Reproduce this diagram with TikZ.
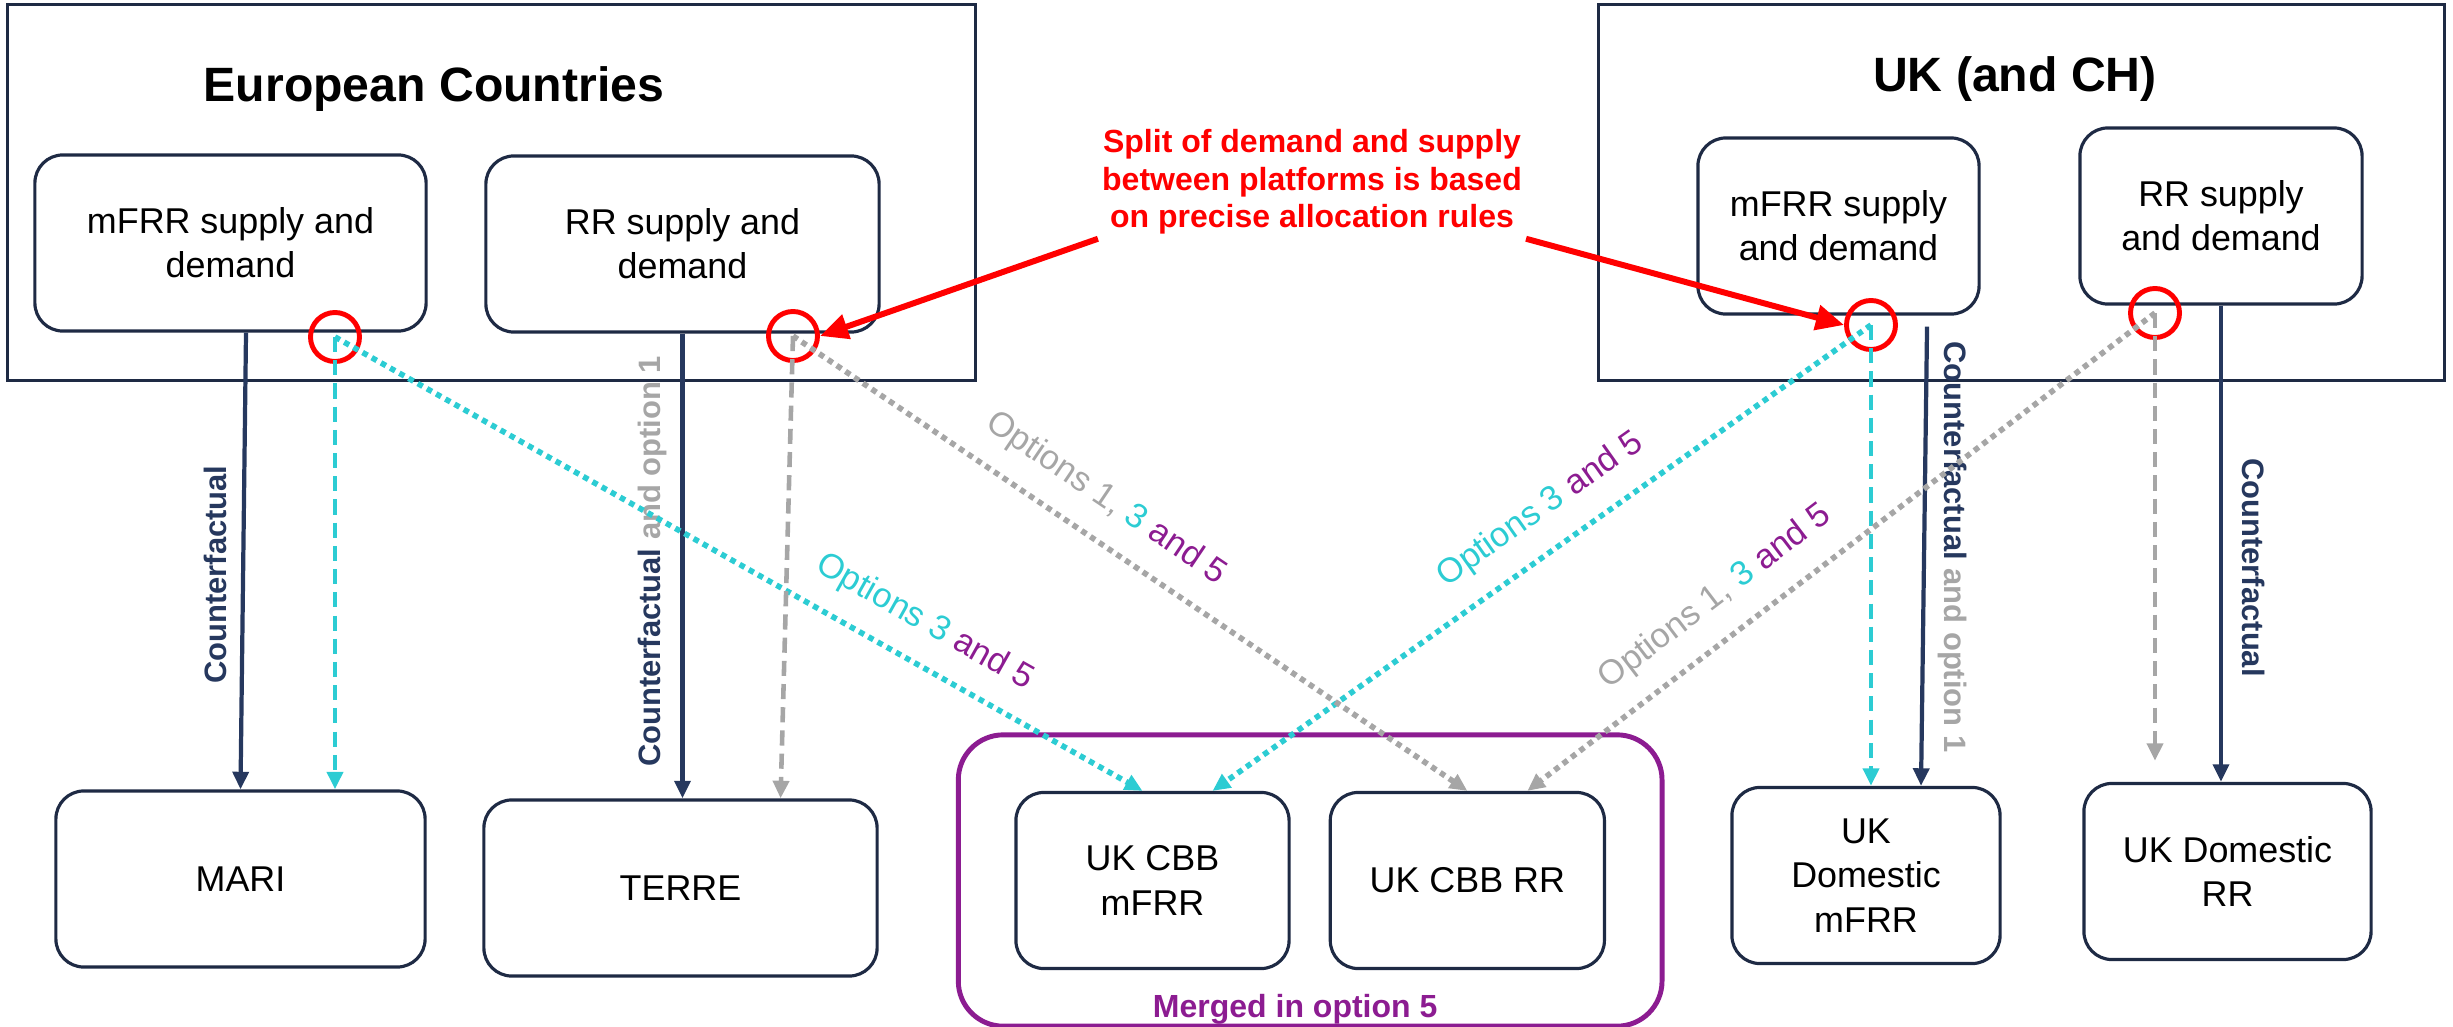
\documentclass[tikz,border=0pt]{standalone}
\usepackage{fontspec}
\setmainfont{Liberation Sans}
\usetikzlibrary{arrows.meta, positioning, fit, calc, backgrounds}

\definecolor{navy}{RGB}{38,56,94}
\definecolor{boxline}{RGB}{30,42,68}
\definecolor{optcyan}{RGB}{44,204,211}
\definecolor{optgrey}{RGB}{166,166,166}
\definecolor{optpurple}{RGB}{140,28,145}

\begin{document}
\begin{tikzpicture}[
    x=0.01cm, y=-0.01cm,
    >={Triangle[length=5pt, width=4.5pt]},
    font=\fontsize{10.2}{12.6}\selectfont,
    regionbox/.style={rectangle, draw=boxline, line width=0.9pt, minimum height=3.75cm},
    regiontitle/.style={font=\fontsize{13.7}{16}\selectfont\bfseries},
    market/.style={rectangle, draw=boxline, line width=0.9pt, rounded corners=0.28cm, minimum height=1.76cm, align=center, inner sep=2pt},
    splitring/.style={circle, draw=red, line width=1.4pt, minimum size=0.49cm, inner sep=0pt},
    cf/.style={->, draw=navy, line width=1.2pt},
    cfdash/.style={->, dash pattern=on 4.3pt off 2.3pt, line width=1.3pt},
    optdot/.style={->, dash pattern=on 1.6pt off 1.4pt, line width=1.6pt},
    cflabel/.style={font=\fontsize{8.8}{10}\selectfont\bfseries, text=navy, inner sep=4pt},
    optlabel/.style={font=\fontsize{9.8}{11}\selectfont, sloped, inner sep=0pt, above=6pt},
    splitnote/.style={font=\fontsize{9.1}{10.7}\selectfont\bfseries, text=red, align=center, inner sep=1pt},
    pointer/.style={-{Triangle[length=8pt, width=7pt]}, draw=red, line width=1.7pt},
    mergebox/.style={rectangle, draw=optpurple, line width=1.4pt, rounded corners=0.45cm, inner sep=0.56cm}
]
\useasboundingbox (0,0) rectangle (2453,1027);

% Regions
\node[regionbox, minimum width=9.67cm] (europe) at (491.5,192.5) {};
\node[regionbox, minimum width=8.45cm] (uk) at (2021.5,192.5) {};
\node[regiontitle] (eutitle) at (434,89) {European Countries};
\node[regiontitle] (uktitle) at (2015,79) {UK (and CH)};

% Supply and demand
\node[market, minimum width=3.91cm] (eumfrr) at (230.5,243) {mFRR supply and\\demand};
\node[market, minimum width=3.93cm] (eurr) at (682.5,244) {RR supply and\\demand};
\node[market, minimum width=2.81cm] (ukmfrr) at (1838.5,226) {mFRR supply\\and demand};
\node[market, minimum width=2.82cm] (ukrr) at (2221,216) {RR supply\\and demand};

% Platforms
\node[market, minimum width=3.69cm] (mari) at (240.5,879) {MARI};
\node[market, minimum width=3.93cm] (terre) at (680.5,888) {TERRE};
\node[market, minimum width=2.73cm] (cbbmfrr) at (1152.5,880.5) {UK CBB\\mFRR};
\node[market, minimum width=2.74cm] (cbbrr) [right=0.38cm of cbbmfrr] {UK CBB RR};
\node[market, minimum width=2.68cm] (dommfrr) at (1866,875.5) {UK\\Domestic\\mFRR};
\node[market, minimum width=2.87cm] (domrr) at (2227.5,871.5) {UK Domestic\\RR};

% Merged box
\begin{scope}[on background layer]
    \node[mergebox, fit=(cbbmfrr) (cbbrr)] (merged) {};
\end{scope}
\node[font=\fontsize{9.1}{11}\selectfont\bfseries, text=optpurple] (mergednote) at ($(merged.south)+(-15,-19)$) {Merged in option 5};

% Split points
\node[splitring] (eumfrrsplit) at (335,337) {};
\node[splitring] (eurrsplit) at (793,336) {};
\node[splitring] (ukmfrrsplit) at (1871,325) {};
\node[splitring] (ukrrsplit) at (2155,313) {};

% Note
\node[splitnote] (rulesnote) at (1312,182) {Split of demand and supply\\between platforms is based\\on precise allocation rules};
\draw[pointer] (rulesnote.south west) -- (eurrsplit.east);
\draw[pointer] (rulesnote.south east) -- (ukmfrrsplit.west);

% Counterfactual
\draw[cf] ([xshift=0.155cm]eumfrr.south) -- node[cflabel, pos=0.53, above, rotate=90] (cfmari) {Counterfactual} (mari.north);
\draw[cf] (eurr.south) -- node[cflabel, pos=0.49, above, rotate=90, inner sep=3.8pt] (cfterre) {Counterfactual \textcolor{optgrey}{and option 1}} (eurr.south |- terre.north);
\draw[cf] ([xshift=0.885cm, yshift=-0.11cm]ukmfrr.south) -- node[cflabel, pos=0.48, above, rotate=-90, inner sep=3.3pt] (cfdommfrr) {Counterfactual \textcolor{optgrey}{and option 1}} ([xshift=0.55cm]dommfrr.north);
\draw[cf] (ukrr.south) -- node[cflabel, pos=0.55, above, rotate=-90, inner sep=5.4pt] (cfdomrr) {Counterfactual} (ukrr.south |- domrr.north);

% mFRR options
\draw[cfdash, optcyan] (eumfrrsplit.center) -- (eumfrrsplit.center |- mari.north);
\draw[optdot, optcyan] (eumfrrsplit.center) -- node[optlabel, pos=0.706] (opteumfrr) {\textcolor{optcyan}{Options 3} \textcolor{optpurple}{and 5}} ([xshift=-0.1cm]cbbmfrr.north);
\draw[optdot, optcyan] (ukmfrrsplit.center) -- node[optlabel, pos=0.467] (optukmfrr) {\textcolor{optcyan}{Options 3} \textcolor{optpurple}{and 5}} ([xshift=0.6cm]cbbmfrr.north);
\draw[cfdash, optcyan] (ukmfrrsplit.center) -- (ukmfrrsplit.center |- dommfrr.north);

% RR options
\draw[cfdash, optgrey] (eurrsplit.center) -- ([xshift=1cm]terre.north);
\draw[optdot, optgrey] (eurrsplit.center) -- node[optlabel, pos=0.431] (opteurr) {\textcolor{optgrey}{Options 1,} \textcolor{optcyan}{3} \textcolor{optpurple}{and 5}} (cbbrr.north);
\draw[optdot, optgrey] (ukrrsplit.center) -- node[optlabel, pos=0.662] (optukrr) {\textcolor{optgrey}{Options 1,} \textcolor{optcyan}{3} \textcolor{optpurple}{and 5}} ([xshift=0.6cm]cbbrr.north);
\draw[cfdash, optgrey] (ukrrsplit.center) -- ($(ukrrsplit.center |- domrr.north)+(0,-21)$);

\end{tikzpicture}
\end{document}
